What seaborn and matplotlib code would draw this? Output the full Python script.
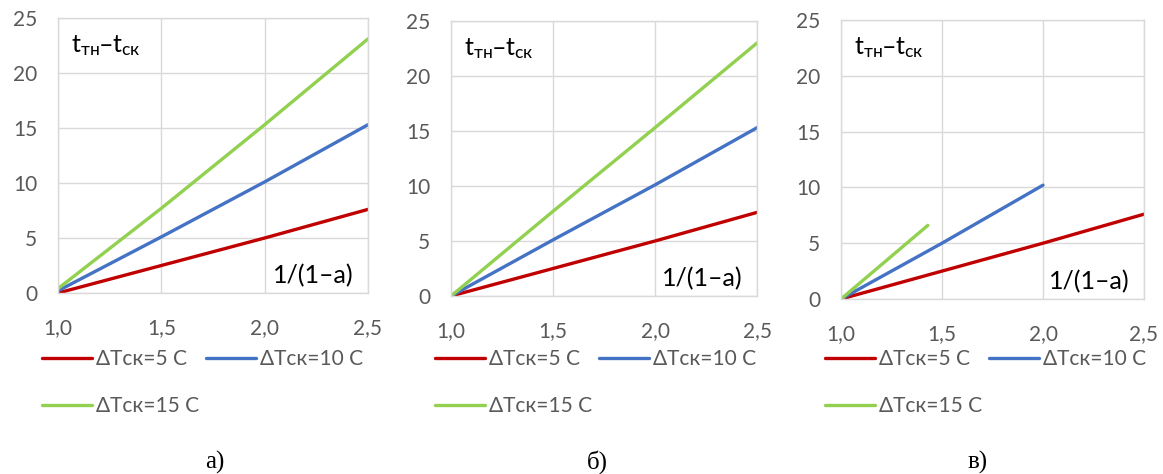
import numpy as np
import pandas as pd
import matplotlib
matplotlib.use("Agg")
import matplotlib.pyplot as plt
import seaborn as sns

# ---- data ----
x_vals = [1.0, 1.5, 2.0, 2.5]
series_names = ["ΔTск=5 C", "ΔTск=10 C", "ΔTск=15 C"]
colors = ["#C00000", "#4472C4", "#92D050"]

# panel а)
a_x = [x_vals, x_vals, x_vals]
a_y = [[0.0, 2.5, 5.0, 7.6],
       [0.2, 5.1, 10.1, 15.3],
       [0.4, 7.7, 15.3, 23.1]]
# panel б)
b_x = [x_vals, x_vals, x_vals]
b_y = [[0.0, 2.5, 5.0, 7.6],
       [0.0, 5.1, 10.1, 15.3],
       [0.0, 7.7, 15.3, 23.0]]
# panel в)
c_x = [x_vals, [1.0, 1.5, 2.0], [1.0, 1.43]]
c_y = [[0.0, 2.5, 5.0, 7.6],
       [0.0, 5.0, 10.2],
       [0.0, 6.6]]

captions = ["а)", "б)", "в)"]
x_ticks = [1.0, 1.5, 2.0, 2.5]
x_tick_labels = ["1,0", "1,5", "2,0", "2,5"]
y_ticks = [0, 5, 10, 15, 20, 25]
y_label = r"$\mathregular{t_{тн}–t_{ск}}$"
x_label = "1/(1–a)"

sns.set_theme(style="white")
plt.rcParams["font.family"] = ["Lato", "DejaVu Sans"]

W, H = 1163, 474
fig = plt.figure(figsize=(W / 100, H / 100), dpi=100)

# pixel boxes: left, right, top, bottom
boxes = [(58, 368, 18, 293), (451, 757, 21, 296), (841, 1144, 20, 299)]
caption_x = [215, 597, 978]
panels = [(a_x, a_y), (b_x, b_y), (c_x, c_y)]

for i, ((px, py), (l, r, t, b)) in enumerate(zip(panels, boxes)):
    ax = fig.add_axes([l / W, 1 - b / H, (r - l) / W, (b - t) / H])
    rows = []
    for name, xs, ys in zip(series_names, px, py):
        for xv, yv in zip(xs, ys):
            rows.append({"x": xv, "y": yv, "series": name})
    df = pd.DataFrame(rows)
    sns.lineplot(data=df, x="x", y="y", hue="series", hue_order=series_names,
                 palette=colors, linewidth=2.4, ax=ax, legend=False,
                 estimator=None, sort=False)
    ax.set_xlim(1.0, 2.5)
    ax.set_ylim(0, 25)
    ax.set_xticks(x_ticks)
    ax.set_xticklabels(x_tick_labels)
    ax.set_yticks(y_ticks)
    ax.set_xlabel("")
    ax.set_ylabel("")
    ax.grid(True, color="#d9d9d9", linewidth=1.0)
    ax.set_axisbelow(True)
    for sp in ax.spines.values():
        sp.set_color("#d9d9d9")
        sp.set_linewidth(1.0)
    ax.tick_params(axis="both", length=0, labelsize=15, colors="#595959")
    ax.tick_params(axis="x", pad=18)
    ax.tick_params(axis="y", pad=15)

    wpx, hpx = r - l, b - t
    ax.text(13 / wpx, 1 - 28 / hpx, y_label, transform=ax.transAxes,
            fontsize=18, color="black", va="center", ha="left")
    ax.text(1 - 14 / wpx, 17 / hpx, x_label, transform=ax.transAxes,
            fontsize=18, color="black", va="center", ha="right",
            bbox=dict(facecolor="white", edgecolor="none", pad=2))

    handles = [plt.Line2D([], [], color=colors[0], linewidth=2.4),
               plt.Line2D([], [], color=colors[2], linewidth=2.4),
               plt.Line2D([], [], color=colors[1], linewidth=2.4)]
    labels = [series_names[0], series_names[2], series_names[1]]
    leg = ax.legend(handles, labels, loc="upper left",
                    bbox_to_anchor=((l - 16) / W, 1 - 349 / H),
                    bbox_transform=fig.transFigure, ncol=2, frameon=False,
                    fontsize=15, handlelength=2.4, handletextpad=0.2,
                    columnspacing=0.3, labelspacing=1.3, borderpad=0,
                    borderaxespad=0)
    for txt in leg.get_texts():
        txt.set_color("#595959")

    fig.text(caption_x[i] / W, 1 - 462 / H, captions[i],
             family=["Liberation Serif", "DejaVu Serif"], fontsize=18,
             ha="center", va="center", color="black")

fig.savefig("out.png", dpi=100)
